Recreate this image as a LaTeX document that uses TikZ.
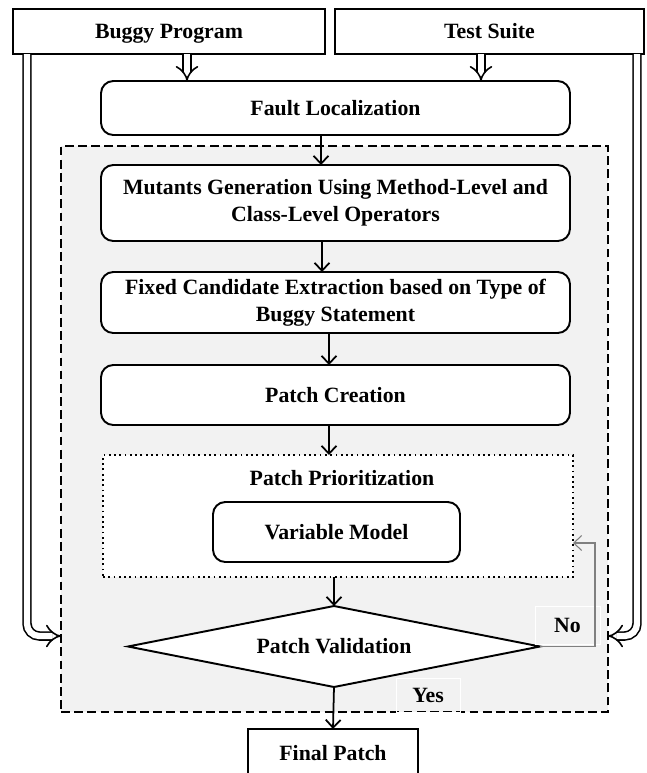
\documentclass[tikz,border=0pt]{standalone}
\usepackage{fontspec}
\setmainfont{Liberation Serif}
\usetikzlibrary{shapes.geometric,arrows.meta,calc}

\begin{document}
\begin{tikzpicture}[auto, outer sep=0pt, node distance=0cm,
  >={Straight Barb[length=4.5pt,width=8.5pt]},
  font=\fontsize{12.4}{15.5}\selectfont\bfseries,
  box/.style={draw, line width=1.1pt, rounded corners=7pt, fill=white,
    minimum width=9.38cm, align=center},
  inbox/.style={draw, line width=1pt, fill=white, minimum height=0.9cm,
    text height=0.85em, text depth=0pt},
  dbl/.style={double, double distance=3.6pt, line width=0.9pt, -{Implies}},
  flow/.style={->, line width=1pt},
  backline/.style={->, draw=gray, line width=0.6pt},
  tag/.style={draw=white, line width=0.4pt}]

\useasboundingbox (0, 0) rectangle (12.92, -15.46);
\clip (0, 0) rectangle (12.92, -15.46);

% repair loop
\node at (6.69, -8.58) [draw, dashed, dash pattern=on 5pt off 2.5pt, line width=0.9pt,
  fill=gray!10, minimum width=10.94cm, minimum height=11.32cm] (LOOP) {};

\node at (3.38, -0.63) [inbox, minimum width=6.24cm] (BUGGY) {Buggy Program};
\node at (9.79, -0.63) [inbox, minimum width=6.18cm] (TESTS) {Test Suite};
\node at (6.71, -2.16) [box, minimum height=1.08cm] (FAULT) {Fault Localization};
\node at (6.71, -4.06) [box, minimum height=1.52cm] (MUTANTS)
  {Mutants Generation Using Method-Level and\\Class-Level Operators};
\node at (6.71, -6.05) [box, minimum height=1.22cm] (FIXED)
  {Fixed Candidate Extraction based on Type of\\Buggy Statement};
\node at (6.71, -7.9) [box, minimum height=1.2cm] (CREATION) {Patch Creation};
\node at (6.76, -10.32) [draw, dotted, line width=1pt, fill=white,
  minimum width=9.4cm, minimum height=2.44cm] (PRIO) {};
\node at (6.84, -9.56) (PRIOTITLE) {Patch Prioritization};
\node at (6.73, -10.64) [box, minimum width=4.94cm, minimum height=1.2cm] (VARMODEL) {Variable Model};
\node at (6.68, -12.93) [diamond, draw, line width=1.1pt, fill=white, aspect=5, inner sep=0pt,
  minimum width=8.24cm, minimum height=1.62cm] (VALID) {Patch Validation};
\node at (6.66, -15.06) [inbox, minimum width=3.4cm, minimum height=0.96cm] (FINAL) {Final Patch};
\node at (8.56, -13.9) [tag, minimum width=1.28cm, minimum height=0.68cm] (YES) {Yes};
\node at (11.35, -12.5) [tag, minimum width=1.3cm, minimum height=0.76cm] (NO) {No};
\coordinate (BACK) at (11.9, -10.86);

    \draw [dbl] ($(BUGGY.south)+(0.36,0)$) coordinate (b1) -- (b1 |- FAULT.north);
    \draw [dbl] ($(TESTS.south)+(-0.17,0)$) coordinate (t1) -- (t1 |- FAULT.north);
    \draw [dbl, rounded corners=7pt] ($(BUGGY.south west)+(0.28,0)$) |- ($(LOOP.west)+(0,-4.14)$);
    \draw [dbl, rounded corners=7pt] ($(TESTS.south east)+(-0.14,0)$) |- ($(LOOP.east)+(0,-4.14)$);
    \draw [flow] (6.42, 0 |- FAULT.south) -- (6.42, 0 |- MUTANTS.north);
    \draw [flow] (6.44, 0 |- MUTANTS.south) -- (6.44, 0 |- FIXED.north);
    \draw [flow] (6.58, 0 |- FIXED.south) -- (6.58, 0 |- CREATION.north);
    \draw [flow] (6.58, 0 |- CREATION.south) -- (6.58, 0 |- PRIO.north);
    \draw [flow] (PRIO.south -| VALID.north) -- (VALID.north);
    \draw [flow] (VALID.south) -- (FINAL.north);
    \draw [backline] (VALID.east) -| (BACK) -- (BACK -| PRIO.east);
\end{tikzpicture}
\end{document}
